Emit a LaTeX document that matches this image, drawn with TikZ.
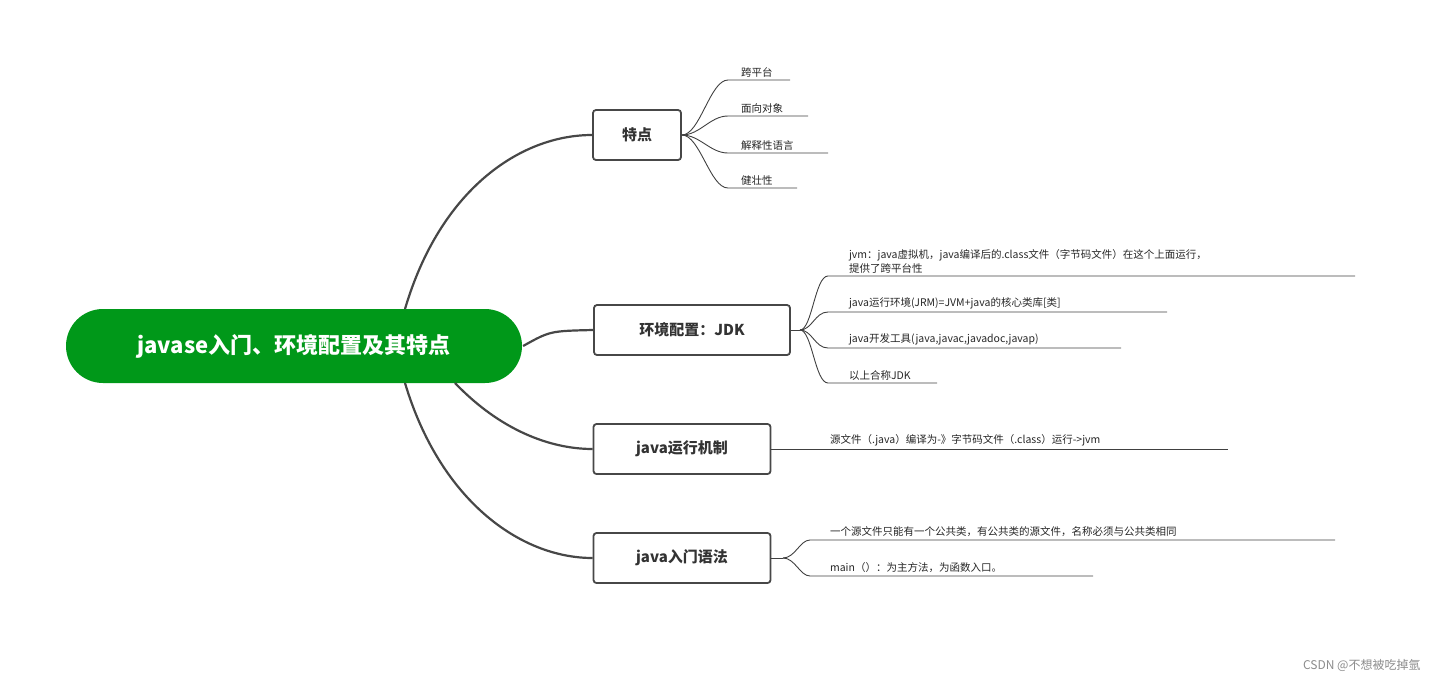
\documentclass[tikz,border=0pt]{standalone}
\usepackage{fontspec}
\setmainfont{Noto Sans CJK SC}
\begin{document}
\begin{tikzpicture}[x=1pt,y=-1pt,line width=2.2pt,draw=black!72]
    \tikzstyle{root}=[rounded corners=37pt,fill=green!55!black!90!cyan,text=white,font=\bfseries\fontsize{22}{26}\selectfont,minimum width=456pt,minimum height=74pt]
    \tikzstyle{topic}=[draw=black!72,line width=1.8pt,rounded corners=3pt,font=\bfseries\fontsize{15}{18}\selectfont,text=black!80,minimum height=50pt,inner xsep=12pt]
    \tikzstyle{leaf}=[anchor=south west,font=\fontsize{10.5}{14}\selectfont,text=black!85,inner sep=2pt,align=left]
    \tikzstyle{twig}=[line width=0.9pt,draw=black!75]

    \useasboundingbox (0,0) rectangle (1438,683);

    \node[root] (root) at (294,346) {javase入门、环境配置及其特点};
    \node[topic,minimum width=88pt] (tedian) at (637,135) {特点};
    \node[topic,minimum width=196pt] (jdk) at (692,330) {环境配置：JDK};
    \node[topic,minimum width=177pt] (jizhi) at (682,449) {java运行机制};
    \node[topic,minimum width=177pt] (yufa) at (682,558) {java入门语法};

    \coordinate (r1) at (405,309);
    \coordinate (r3) at (455,383);
    \coordinate (r4) at (405,383);
    \draw (r1) .. controls (440,190) and (520,135) .. (tedian.west);
    \draw (root.east) .. controls (550,331) .. (jdk.west);
    \draw (r3) .. controls (500,430) and (550,449) .. (jizhi.west);
    \draw (r4) .. controls (440,500) and (520,558) .. (yufa.west);

    % 特点
    \foreach \y/\x/\t [count=\i] in {80/790/跨平台,116/808/面向对象,153/828/解释性语言,188/797/健壮性}{
        \coordinate (t\i) at (728,\y);
        \draw[twig] (tedian.east) .. controls (700,135) and (710,\y) .. (t\i) -- (\x,\y);
        \node[leaf] (tt\i) at (738,\y) {\t};
    }

    % JDK
    \coordinate (jf) at (800,330);
    \draw[twig] (jdk.east) -- (jf);
    \foreach \y/\x/\t [count=\i] in {276/1355/{jvm：java虚拟机，java编译后的.class文件（字节码文件）在这个上面运行，\\提供了跨平台性},312/1167/java运行环境(JRM)=JVM+java的核心类库[类],348/1121/{java开发工具(java,javac,javadoc,javap)},383/937/以上合称JDK}{
        \coordinate (j\i) at (828,\y);
        \draw[twig] (jf) .. controls (812,330) and (815,\y) .. (j\i) -- (\x,\y);
        \node[leaf] (jt\i) at (846,\y) {\t};
    }

    % 运行机制
    \coordinate (k1) at (1228,449);
    \draw[twig] (jizhi.east) -- (k1);
    \node[leaf] (kt1) at (827,449) {源文件（.java）编译为-》字节码文件（.class）运行->jvm};

    % 入门语法
    \coordinate (yf) at (783,558);
    \draw[twig] (yufa.east) -- (yf);
    \foreach \y/\x/\t [count=\i] in {540/1335/一个源文件只能有一个公共类，有公共类的源文件，名称必须与公共类相同,576/1093/main（）{}：为主方法，为函数入口。}{
        \coordinate (y\i) at (810,\y);
        \draw[twig] (yf) .. controls (795,558) and (800,\y) .. (y\i) -- (\x,\y);
        \node[leaf] (yt\i) at (827,\y) {\t};
    }

    \node[text=black!45,font=\fontsize{12}{14}\selectfont,anchor=east] (mark) at (1425,665) {CSDN @不想被吃掉氩};
\end{tikzpicture}
\end{document}
